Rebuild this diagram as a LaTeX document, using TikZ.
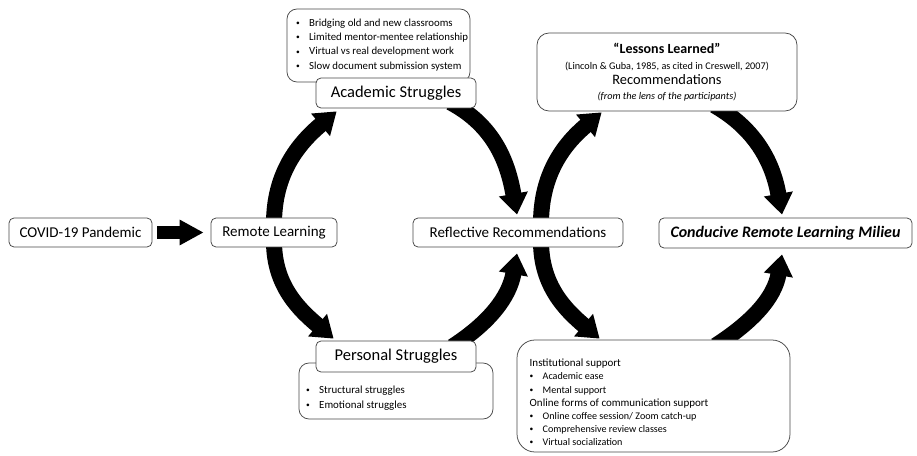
\documentclass[tikz,border=0pt]{standalone}
\usepackage{fontspec}
\setmainfont{Carlito}
\usetikzlibrary{arrows.meta}
\pgfdeclarelayer{bg}
\pgfsetlayers{bg,main}
\newcommand\bulletline[1]{\makebox[13pt][l]{\raisebox{0.9pt}{\fontsize{7.5}{8}\selectfont\textbullet}}#1}
\begin{document}
\begin{tikzpicture}[x=1pt,y=1pt,
  box/.style={draw=black!72, line width=0.75pt, fill=white, rounded corners=5pt,
              inner sep=0pt, align=center},
  lbl/.style={font=\fontsize{15}{18}\selectfont},
  sublbl/.style={font=\fontsize{16.5}{19}\selectfont},
  listtext/.style={anchor=west, align=left, inner sep=0pt},
  flow/.style={line width=16pt, -{Triangle[width=28pt,length=21pt]}},
  push/.style={line width=13pt, -{Triangle[width=24pt,length=24pt]}}
]
\useasboundingbox (0,0) rectangle (917,455);

% bullet boxes sit behind their headings
\node[box, rounded corners=10pt, minimum width=183pt, minimum height=73pt] (asb) at (378.5,409.5) {};
\node[listtext, font=\fontsize{10.8}{14.2}\selectfont] (asbtext) at (296,410)
  {\bulletline{Bridging old and new classrooms}\\
   \bulletline{Limited mentor-mentee relationship}\\
   \bulletline{Virtual vs real development work}\\
   \bulletline{Slow document submission system}};
\node[box, rounded corners=10pt, minimum width=194pt, minimum height=56pt] (psb) at (396,64) {};
\node[listtext, font=\fontsize{10.9}{15}\selectfont] (psbtext) at (306,57)
  {\bulletline{Structural struggles}\\ \bulletline{Emotional struggles}};

% main stages
\node[box, lbl, minimum width=143pt, minimum height=29pt] (cov) at (80.5,222.5) {COVID-19 Pandemic};
\node[box, lbl, minimum width=126pt, minimum height=29pt] (rl) at (274,222.5) {Remote Learning};
\node[box, lbl, minimum width=210pt, minimum height=29pt] (rr) at (518,222.5) {Reflective Recommendations};
\node[box, font=\fontsize{16}{19}\selectfont\bfseries\itshape, minimum width=253pt, minimum height=30pt]
  (crlm) at (785.5,222) {Conducive Remote Learning Milieu};
\node[box, sublbl, minimum width=160pt, minimum height=30pt] (as) at (396,362) {Academic Struggles};
\node[box, sublbl, minimum width=160pt, minimum height=31pt] (ps) at (396,98.5) {Personal Struggles};

% recommendation boxes
\node[box, rounded corners=12pt, minimum width=260pt, minimum height=78pt,
      font=\fontsize{10.2}{14.8}\selectfont] (ll) at (667,383)
  {{\fontsize{14}{15}\selectfont\bfseries “Lessons Learned”}\\[1.5pt]
   (Lincoln \& Guba, 1985, as cited in Creswell, 2007)\\
   {\fontsize{14.4}{15}\selectfont Recommendations}\\
   {\itshape (from the lens of the participants)}};
\node[box, rounded corners=18pt, minimum width=273pt, minimum height=112pt] (inst) at (653.5,59) {};
\node[listtext, font=\fontsize{10.1}{13.2}\selectfont] (insttext) at (529.5,52.5)
  {{\fontsize{11}{13.2}\selectfont Institutional support}\\
   \bulletline{Academic ease}\\
   \bulletline{Mental support}\\
   {\fontsize{11}{13.2}\selectfont Online forms of communication support}\\
   \bulletline{Online coffee session/ Zoom catch-up}\\
   \bulletline{Comprehensive review classes}\\
   \bulletline{Virtual socialization}};

\begin{pgfonlayer}{bg}
  % entry arrow
  \draw[push] ([xshift=5pt]cov.east) -- ([xshift=-7pt]rl.west);
  % first cycle
  \draw[flow] ([yshift=-6pt]rl.north) to[out=90,in=220] ([shift={(21,-3)}]as.south west);
  \draw[flow] ([shift={(-26,6)}]as.south east) to[out=-28,in=100] ([shift={(-1,3)}]rr.north);
  \draw[flow] ([yshift=6pt]rl.south) to[out=-90,in=140] ([shift={(18,2)}]ps.north west);
  \draw[flow] ([shift={(-24,-6)}]ps.north east) to[out=33,in=260] ([shift={(-1,-6)}]rr.south);
  % second cycle
  \draw[flow] ([shift={(23,-6)}]rr.north) to[out=90,in=220] ([shift={(65,-1)}]ll.south west);
  \draw[flow] ([shift={(-83,6)}]ll.south east) to[out=-30,in=100] ([shift={(-3.5,3)}]crlm.north);
  \draw[flow] ([shift={(23,6)}]rr.south) to[out=-90,in=140] ([shift={(83,1)}]inst.north west);
  \draw[flow] ([shift={(199,-6)}]inst.north west) to[out=33,in=260] ([shift={(-3.5,-6)}]crlm.south);
\end{pgfonlayer}
\end{tikzpicture}
\end{document}
